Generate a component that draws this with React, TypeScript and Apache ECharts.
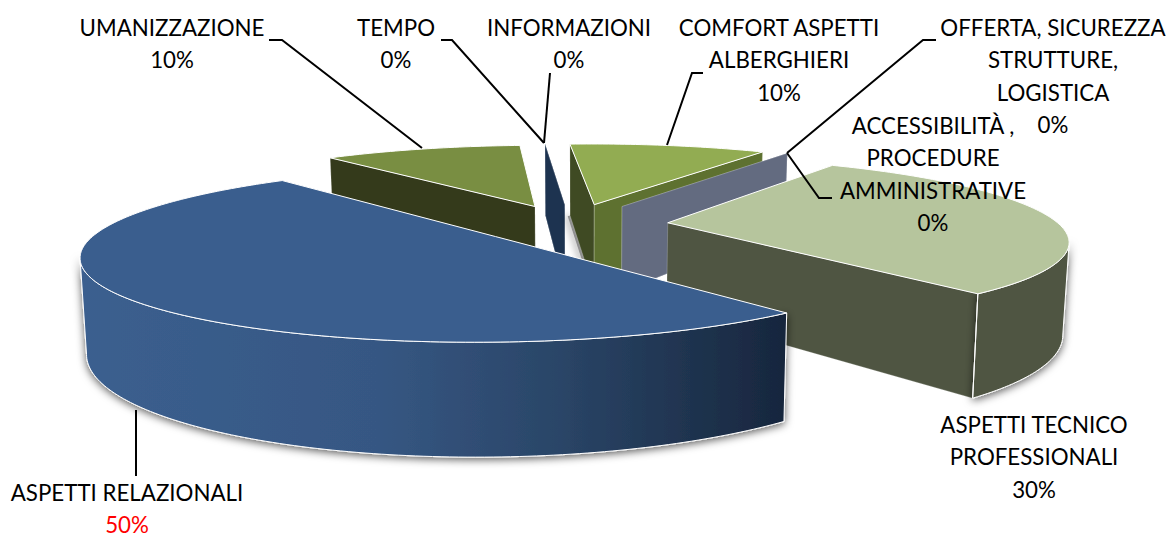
import React, { useEffect, useRef } from "react";
import * as echarts from "echarts";

// Slices in painter's order, back to front, going clockwise around the pie.
const categories = [
  ["UMANIZZAZIONE"],
  ["TEMPO"],
  ["INFORMAZIONI"],
  ["COMFORT ASPETTI", "ALBERGHIERI"],
  ["OFFERTA, SICUREZZA", "STRUTTURE,", "LOGISTICA"],
  ["ACCESSIBILITÀ ,", "PROCEDURE", "AMMINISTRATIVE"],
  ["ASPETTI TECNICO", "PROFESSIONALI"],
  ["ASPETTI RELAZIONALI"],
];
const percentages = [10, 0, 0, 10, 0, 0, 30, 50];

// Pie projection: a tilted disc with mild perspective and a fixed wall height.
const CX = 579, CY = 224, R = 391, PERSP = 0.2, TILT = 0.203, WALL = 89, WALL_TAPER = 0.987;
const FIRST_ANGLE = -40;

// Per-slice displacement of the apex in the plane of the pie.
const EXPLODE = [
  [-46, -90], [-15, -100], [-15, -100], [16, -100], [45, -90], [45, -90], [89, -6], [-81, 60],
];

const BLUE_SIDE = new echarts.graphic.LinearGradient(0, 0, 1, 0, [
  { offset: 0, color: "#3B5F8F" },
  { offset: 0.42, color: "#365783" },
  { offset: 0.68, color: "#2A4567" },
  { offset: 1, color: "#17263D" },
]);

const STYLES: any[] = [
  { top: "#798E42", start: "#343A1B" },
  { start: "#1D3350" },
  { start: "#1D3350" },
  { top: "#92AC52", start: "#3F4A23", end: "#5E7130", groundShadow: true },
  { start: "#636B80" },
  { start: "#636B80" },
  { top: "#B6C59D", end: "#4F5542", rim: "#4F5542", corner: true },
  { top: "#3A5E8E", rim: BLUE_SIDE },
];

// Label placement: horizontal centre and the middle of the first line.
const LABEL_POS = [
  [172, 27], [396, 27], [569, 27], [779, 27], [1053, 27], [933, 125], [1034, 424], [127, 492],
];
const LINE_STEP = 32.6;
const LEADERS = [
  [[269, 40], [282, 40], [422, 148]],
  [[441, 40], [452, 40], [544, 143]],
  [[550, 73], [544, 143]],
  [[703, 73], [692, 73], [667, 145]],
  [[936, 40], [923, 40], [787, 153]],
  [[787, 153], [819, 198], [832, 198]],
  [[136, 410], [136, 476]],
];

const FONT = "Lato";
const FONT_SIZE = 22.3;

function project(i: number, deg: number, radius: number, bottom: boolean) {
  const a = (deg * Math.PI) / 180;
  const X = EXPLODE[i][0] + radius * Math.sin(a);
  const Y = EXPLODE[i][1] - radius * Math.cos(a);
  const s = 1 / (1 - (PERSP * Y) / 400);
  const px = X * s * (bottom ? WALL_TAPER : 1);
  const py = TILT * Y * s + (bottom ? WALL * s : 0);
  return [CX + px, CY + py];
}

function sliceStart(i: number) {
  let from = FIRST_ANGLE;
  for (let k = 0; k < i; k++) from += percentages[k] * 3.6;
  return from;
}

function wall(i: number, deg: number, fill: any) {
  return {
    type: "polygon",
    shape: {
      points: [project(i, 0, 0, false), project(i, deg, R, false), project(i, deg, R, true), project(i, 0, 0, true)],
    },
    style: { fill, stroke: "rgba(255,255,255,0.35)", lineWidth: 0.6 },
  };
}

function renderSlice(params: any, api: any) {
  const i = params.dataIndex;
  const st = STYLES[i];
  const from = sliceStart(i);
  const to = from + api.value(0) * 3.6;
  const children: any[] = [];
  const topArc: number[][] = [];
  const frontTop: number[][] = [];
  const frontLow: number[][] = [];
  for (let d = from; d <= to + 0.001; d += 1) {
    const p = project(i, d, R, false);
    const next = project(i, d + 1, R, false);
    const prev = project(i, d - 1, R, false);
    topArc.push(p);
    // Only the stretch of the rim that faces the viewer gets a side wall.
    if (next[0] < p[0] || prev[0] > p[0]) {
      frontTop.push(p);
      frontLow.push(project(i, d, R, true));
    }
  }
  if (st.groundShadow) {
    const a = project(i, from, R, true);
    const b = project(i, 0, 0, true);
    children.push({
      type: "line",
      shape: { x1: a[0], y1: a[1], x2: b[0], y2: b[1] },
      style: {
        stroke: "rgba(90,90,90,0.6)",
        lineWidth: 5,
        shadowBlur: 7,
        shadowColor: "rgba(0,0,0,0.5)",
        shadowOffsetX: -3,
      },
    });
  }
  if (st.start) children.push(wall(i, from, st.start));
  if (st.end) children.push(wall(i, to, st.end));
  if (st.rim) {
    children.push({
      type: "polygon",
      shape: { points: [...frontTop, ...frontLow.slice().reverse()] },
      style: {
        fill: st.rim,
        stroke: "#ffffff",
        lineWidth: 1,
        shadowBlur: 8,
        shadowColor: "rgba(0,0,0,0.65)",
        shadowOffsetX: 0,
        shadowOffsetY: 2,
      },
    });
  }
  if (st.corner) {
    const a = project(i, to, R, false);
    const b = project(i, to, R, true);
    children.push({
      type: "line",
      shape: { x1: a[0], y1: a[1], x2: b[0], y2: b[1] },
      style: { stroke: "#ffffff", lineWidth: 1 },
    });
  }
  if (st.top) {
    children.push({
      type: "polygon",
      shape: { points: [project(i, 0, 0, false), ...topArc] },
      style: { fill: st.top, stroke: "#ffffff", lineWidth: 1 },
    });
  }
  return { type: "group", children };
}

function buildLabels() {
  const out: any[] = [];
  LEADERS.forEach((points) => {
    out.push({
      type: "polyline",
      z: 50,
      shape: { points },
      style: { stroke: "#000000", lineWidth: 2, fill: "none" },
    });
  });
  categories.forEach((lines, i) => {
    const rows = [...lines, `${percentages[i]}%`];
    rows.forEach((row, r) => {
      const isRed = i === 7 && r === rows.length - 1;
      out.push({
        type: "text",
        z: 60,
        x: LABEL_POS[i][0],
        y: LABEL_POS[i][1] + r * LINE_STEP,
        style: {
          text: row,
          fill: isRed ? "#FF0000" : "#000000",
          font: `${FONT_SIZE}px ${FONT}`,
          lineHeight: 20,
          textAlign: "center",
          textVerticalAlign: "middle",
        },
      });
    });
  });
  return out;
}

export default function App() {
  const ref = useRef<HTMLDivElement>(null);
  useEffect(() => {
    document.body.style.margin = "0";
    const chart = echarts.init(ref.current!, undefined, { renderer: "svg" });
    chart.setOption({
      animation: false,
      backgroundColor: "#ffffff",
      series: [
        {
          type: "custom",
          coordinateSystem: "none",
          silent: true,
          data: percentages.map((v) => [v]),
          renderItem: renderSlice,
        },
      ],
      graphic: buildLabels(),
    });
    return () => chart.dispose();
  }, []);
  return <div ref={ref} style={{ width: 1171, height: 538 }} />;
}
